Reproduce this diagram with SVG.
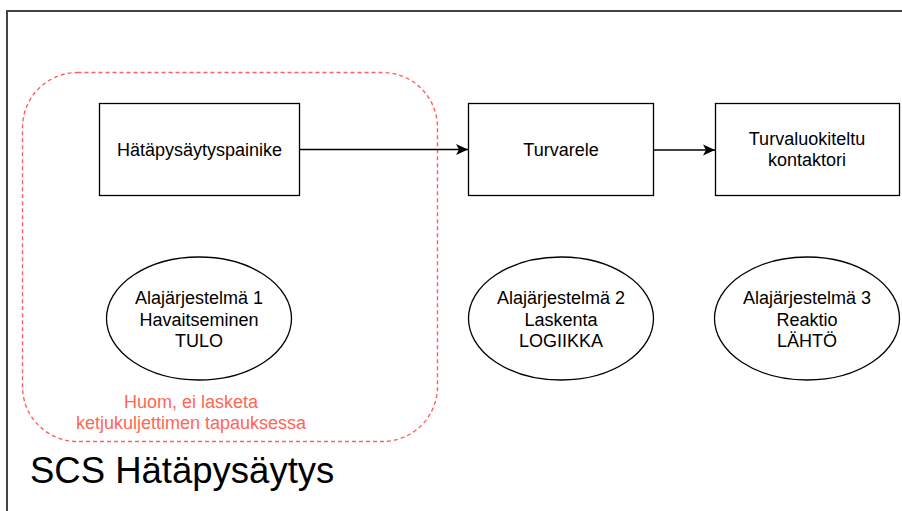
<svg xmlns="http://www.w3.org/2000/svg" width="902" height="511" viewBox="0 0 902 511">
<style>
.node{fill:#fff;stroke:#000;stroke-width:1.3}
.t{font-family:"Liberation Sans",Arial,sans-serif;font-size:18px;fill:#000;text-anchor:middle}
.note{font-family:"Liberation Sans",Arial,sans-serif;font-size:18px;fill:#FF6655;text-anchor:middle}
.edge{stroke:#000;stroke-width:1.3;fill:none}
</style>
<defs>
<marker id="arr" viewBox="0 0 12 12" refX="12" refY="6" markerWidth="12" markerHeight="12" markerUnits="userSpaceOnUse" orient="auto">
<path d="M0,0.5 L12,6 L0,11.5 L3,6 Z" fill="#000"/>
</marker>
</defs>
<rect width="902" height="511" fill="#fff"/>
<g id="frame">
<rect x="7" y="11" width="960" height="560" fill="none" stroke="#444" stroke-width="2"/>
<text x="30" y="483" style="font-family:'Liberation Sans',Arial,sans-serif;font-size:36.5px;fill:#000">SCS Hätäpysäytys</text>
</g>
<g id="input-group">
<rect x="22.5" y="72.5" width="415" height="369" rx="55" ry="55" fill="none" stroke="#FF5F5F" stroke-width="1.4" stroke-dasharray="4 3"/>
<text class="note" x="191" y="408">Huom, ei lasketa</text>
<text class="note" x="191" y="429">ketjukuljettimen tapauksessa</text>
</g>
<g id="connectors">
<line class="edge" x1="300" y1="149.5" x2="468" y2="149.5" marker-end="url(#arr)"/>
<line class="edge" x1="654" y1="150" x2="715" y2="150" marker-end="url(#arr)"/>
</g>
<g id="n1">
<rect class="node" x="99.5" y="103.5" width="200" height="92"/>
<text class="t" x="199.5" y="156">Hätäpysäytyspainike</text>
</g>
<g id="n2">
<rect class="node" x="468.5" y="103.5" width="185" height="92"/>
<text class="t" x="561" y="156">Turvarele</text>
</g>
<g id="n3">
<rect class="node" x="715.5" y="103.5" width="184" height="92"/>
<text class="t" x="807" y="144.5">Turvaluokiteltu</text>
<text class="t" x="807" y="166">kontaktori</text>
</g>
<g id="e1">
<ellipse class="node" cx="199" cy="318.5" rx="92.5" ry="61.5"/>
<text class="t" x="199" y="304">Alajärjestelmä 1</text>
<text class="t" x="199" y="325.5">Havaitseminen</text>
<text class="t" x="199" y="347">TULO</text>
</g>
<g id="e2">
<ellipse class="node" cx="561" cy="318.5" rx="92.5" ry="61.5"/>
<text class="t" x="561" y="304">Alajärjestelmä 2</text>
<text class="t" x="561" y="325.5">Laskenta</text>
<text class="t" x="561" y="347">LOGIIKKA</text>
</g>
<g id="e3">
<ellipse class="node" cx="807" cy="318.5" rx="92.5" ry="61.5"/>
<text class="t" x="807" y="304">Alajärjestelmä 3</text>
<text class="t" x="807" y="325.5">Reaktio</text>
<text class="t" x="807" y="347">LÄHTÖ</text>
</g>
</svg>
